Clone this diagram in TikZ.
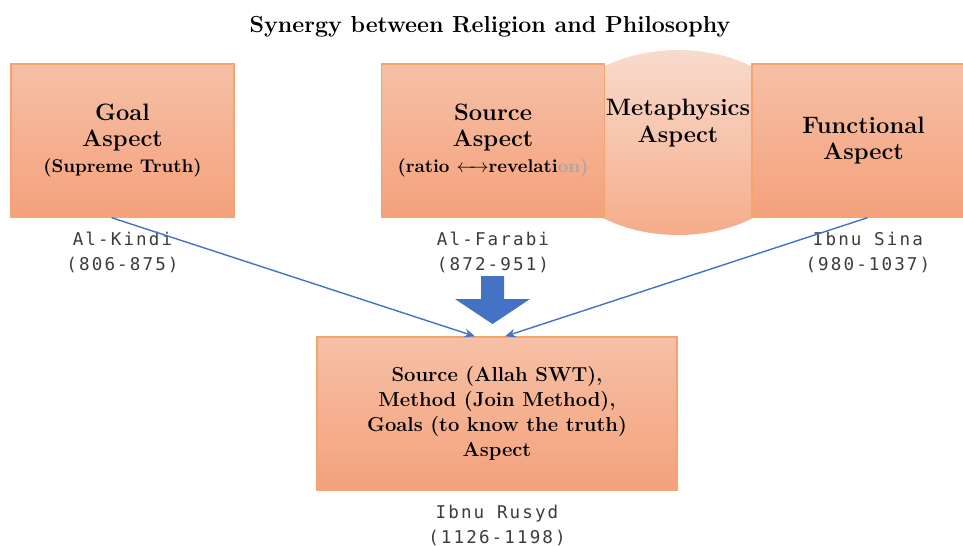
\documentclass[tikz,border=0pt]{standalone}
\usepackage{fontspec}
\newfontfamily\namefont[LetterSpace=12]{DejaVu Sans Mono}
\usetikzlibrary{shapes.geometric, arrows.meta}
\definecolor{boxtop}{HTML}{F6C0A6}
\definecolor{boxbot}{HTML}{F4A17C}
\definecolor{boxline}{HTML}{F4A46C}
\definecolor{ovaltop}{HTML}{F8DBCD}
\definecolor{ovalbot}{HTML}{F5AC8A}
\definecolor{linkblue}{HTML}{4472C4}
\definecolor{namegray}{HTML}{3C3C3C}
\tikzset{aspect/.style={draw=boxline,line width=0.8pt,top color=boxtop,bottom color=boxbot,
                        minimum width=4.46cm,minimum height=3.06cm,inner sep=0pt,align=center,
                        font=\bfseries\fontsize{13.5}{15}\selectfont},
         oval/.style={ellipse,top color=ovaltop,bottom color=ovalbot,minimum width=5.2cm,minimum height=3.7cm,inner sep=0pt},
         who/.style={font=\namefont\fontsize{10}{14.2}\selectfont,text=namegray,align=center,label distance=4.5pt},
         link/.style={draw=linkblue,line width=0.8pt,-{Stealth[length=6pt,width=5pt]}},
        }

\begin{document}
\begin{tikzpicture}[x=0.02cm,y=-0.02cm]
        \useasboundingbox (0,0) rectangle (963,545);
        \node[font=\bfseries\fontsize{13.2}{16}\selectfont, align=center](title)at(490,27){Synergy between Religion and Philosophy};

        \node[oval](meta)at(678,142.5){};
        \node[font=\bfseries\fontsize{13.5}{15.5}\selectfont, align=center](metatxt)at(678,123){Metaphysics\\Aspect};

        \node[aspect, label={[who]below:{Al-Kindi\\(806-875)}}](goal)at(122.5,140.5)
            {Goal\\Aspect\\{\fontsize{10.5}{15}\selectfont (Supreme Truth)}};
        \node[aspect, label={[who]below:{Al-Farabi\\(872-951)}}](source)at(493,140.5)
            {Source\\Aspect\\{\fontsize{10.5}{15}\selectfont (ratio $\leftarrow\!\!\rightarrow$revelati\textcolor{gray!70}{on)}}};
        \node[aspect, label={[who,xshift=2.5pt]below:{Ibnu Sina\\(980-1037)}}](func)at(863.5,140.5){Functional\\Aspect};

        \node[aspect, minimum width=7.2cm, font=\bfseries\fontsize{11.5}{14.2}\selectfont,
              label={[who]below:{Ibnu Rusyd\\(1126-1198)}}](synth)at(497,413.5)
            {Source (Allah SWT),\\Method (Join Method),\\Goals (to know the truth)\\Aspect};

        \coordinate(drop)at(492.5,276);
        \fill[linkblue](drop)++(-11.5,0)--++(23,0)--++(0,23)--++(26,0)--++(-37.5,25)--++(-37.5,-25)--++(26,0)--cycle;

        \draw[link](goal.-98)--(synth.106);
        \draw[link](func.-87)--(synth.84);
    \end{tikzpicture}
\end{document}
